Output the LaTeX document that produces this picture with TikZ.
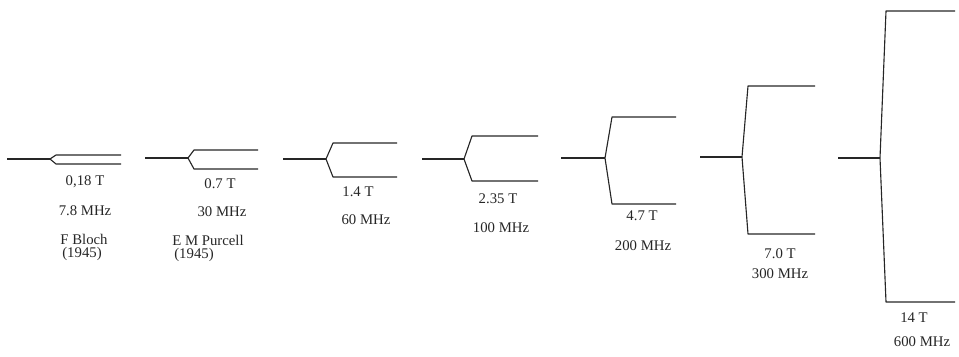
\documentclass[tikz,border=0pt]{standalone}
\usepackage{fontspec}
\setmainfont{Liberation Serif}
\begin{document}
\begin{tikzpicture}[x=0.025cm,y=-0.025cm,
    fork/.style={line width=0.8pt,black!85,line join=round},
    lbl/.style={font=\fontsize{10.5}{12}\selectfont,black!85,inner sep=0pt}]
    \useasboundingbox (0,0) rectangle (959,356);
    % Splittings: stem start/fork point/height/upper/lower/tine start/tine end
    \foreach \n/\xa/\xv/\yv/\yu/\yl/\xs/\xe in {
        1/7/50/159/155/164/56/121,
        2/145/188/158/150/169/194/258,
        3/283/326/159/143/177/333/397,
        4/422/464/159/136/181/472/538,
        5/561/605/158/117/204/612/676,
        6/700/742/157/86/234/748/815,
        7/838/880/158/11/302/886/955}
    {
        \coordinate (S\n) at (\xa,\yv);
        \coordinate (V\n) at (\xv,\yv);
        \coordinate (U\n) at (\xs,\yu);
        \coordinate (L\n) at (\xs,\yl);
        \coordinate (UE\n) at (\xe,\yu);
        \coordinate (LE\n) at (\xe,\yl);
        \draw[fork] (S\n) -- (V\n);
        \draw[fork] (UE\n) -- (U\n) -- (V\n) -- (L\n) -- (LE\n);
    }

    % Field strength and frequency
    \node[lbl] (B1) at (85,182) {0,18 T};
    \node[lbl] (F1) at (85,211) {7.8 MHz};
    \node[lbl] (B2) at (220,184) {0.7 T};
    \node[lbl] (F2) at (222,212) {30 MHz};
    \node[lbl] (B3) at (358,192) {1.4 T};
    \node[lbl] (F3) at (366,220) {60 MHz};
    \node[lbl] (B4) at (498,199) {2.35 T};
    \node[lbl] (F4) at (501,228) {100 MHz};
    \node[lbl] (B5) at (642,216) {4.7 T};
    \node[lbl] (F5) at (643,246) {200 MHz};
    \node[lbl] (B6) at (780,254) {7.0 T};
    \node[lbl] (F6) at (780,274) {300 MHz};
    \node[lbl] (B7) at (914,318) {14 T};
    \node[lbl] (F7) at (922,342) {600 MHz};

    % First experiments
    \node[lbl] (N1) at (84,239) {F Bloch};
    \node[lbl] (Y1) at (82,254) {(1945)};
    \node[lbl] (N2) at (208,240) {E M Purcell};
    \node[lbl] (Y2) at (194,255) {(1945)};
\end{tikzpicture}
\end{document}
